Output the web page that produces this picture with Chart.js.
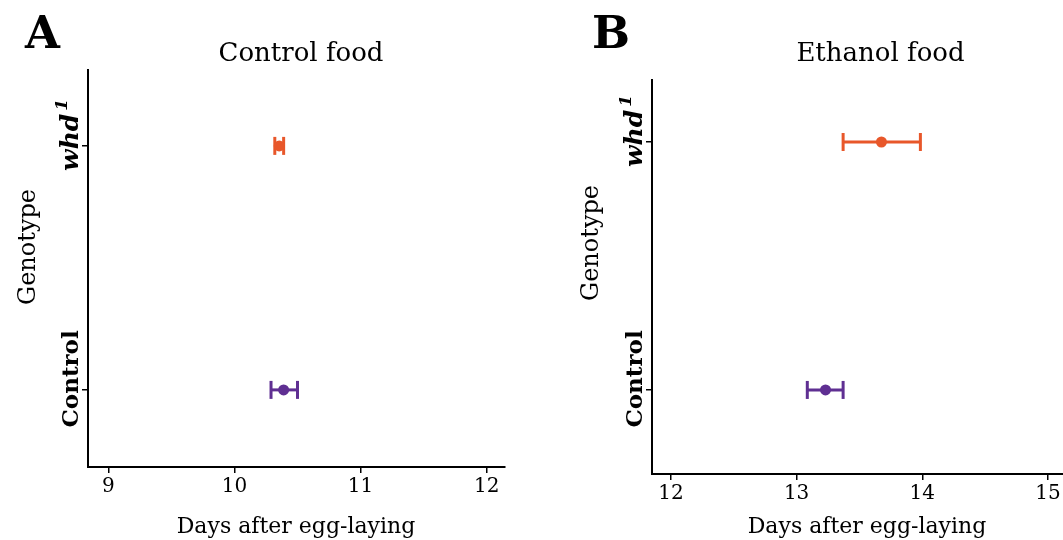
<!DOCTYPE html>
<html><head><meta charset="utf-8">
<script src="https://cdn.jsdelivr.net/npm/chart.js@4/dist/chart.umd.min.js"></script>
<style>
html,body{margin:0;padding:0;background:#fff;}
#wrap{position:relative;width:1063px;height:540px;overflow:hidden;}
.c{position:absolute;top:0;height:540px;}
</style></head><body>
<div id="wrap">
<div class="c" style="left:0;width:531px"><canvas id="a"></canvas></div>
<div class="c" style="left:531px;width:532px"><canvas id="b"></canvas></div>
</div>
<script>
// ---- data ----
const genotypes = ['Control', 'whd1'];
const genotypeY = [1, 2];
const controlMean = [10.39, 10.355];
const controlLow  = [10.29, 10.32];
const controlHigh = [10.50, 10.39];
const ethanolMean = [13.23, 13.675];
const ethanolLow  = [13.085, 13.37];
const ethanolHigh = [13.37, 13.985];
const controlTicks = [9, 10, 11, 12];
const ethanolTicks = [12, 13, 14, 15];
const colors = ['#5F2F92', '#E8572A'];

const FONT = "'DejaVu Serif', 'Liberation Serif', serif";
Chart.defaults.color = '#000';
Chart.defaults.font.family = FONT;

function makePanel(id, o) {
  const datasets = [];
  for (let i = 0; i < genotypes.length; i++) {
    datasets.push({
      data: [{x: o.low[i], y: genotypeY[i]}, {x: o.high[i], y: genotypeY[i]}],
      showLine: true,
      borderColor: colors[i], borderWidth: 3,
      pointStyle: 'line', pointRotation: 90, pointRadius: 9, pointHoverRadius: 9,
      pointBorderColor: colors[i], pointBorderWidth: 3, pointHoverBorderWidth: 3,
      order: 2
    });
    datasets.push({
      data: [{x: o.mean[i], y: genotypeY[i]}],
      pointRadius: 5.5, pointHoverRadius: 5.5,
      backgroundColor: colors[i], borderWidth: 0,
      order: 1
    });
  }
  const labelPlugin = {
    id: 'labels' + id,
    afterDraw(chart) {
      const ctx = chart.ctx;
      const ys = chart.scales.y;
      const left = chart.chartArea.left;
      ctx.save();
      ctx.fillStyle = '#000';
      // panel letter
      ctx.font = "bold 45px " + FONT;
      ctx.textAlign = 'left';
      ctx.textBaseline = 'alphabetic';
      ctx.fillText(o.letter, o.letterX, 48);
      // panel title
      ctx.font = "26px " + FONT;
      ctx.textAlign = 'center';
      ctx.fillText(o.title, o.titleX, 61);
      // x axis title
      ctx.font = "22px " + FONT;
      ctx.fillText('Days after egg-laying', o.xTitleX, 533);
      // y axis title
      ctx.save();
      ctx.translate(o.yTitleX, o.yTitleY);
      ctx.rotate(-Math.PI / 2);
      ctx.font = "24px " + FONT;
      ctx.textAlign = 'center';
      ctx.textBaseline = 'alphabetic';
      ctx.fillText('Genotype', 0, 0);
      ctx.restore();
      // category labels (rotated)
      for (let i = 0; i < genotypes.length; i++) {
        const py = ys.getPixelForValue(genotypeY[i]) - 11;
        ctx.save();
        ctx.translate(left - 10, py);
        ctx.rotate(-Math.PI / 2);
        ctx.textBaseline = 'alphabetic';
        if (genotypes[i] === 'whd1') {
          const f1 = "italic bold 25px " + FONT;
          const f2 = "italic bold 17px " + FONT;
          ctx.font = f1; const w1 = ctx.measureText('whd').width;
          ctx.font = f2; const w2 = ctx.measureText('1').width;
          const start = -(w1 + w2 + 3) / 2;
          ctx.textAlign = 'left';
          ctx.font = f1; ctx.fillText('whd', start, 0);
          ctx.font = f2; ctx.fillText('1', start + w1 + 3, -11);
        } else {
          ctx.font = "bold 23px " + FONT;
          ctx.textAlign = 'center';
          ctx.fillText(genotypes[i], 0, 0);
        }
        ctx.restore();
      }
      ctx.restore();
    }
  };
  return new Chart(document.getElementById(id), {
    type: 'scatter',
    data: { datasets },
    plugins: [labelPlugin],
    options: {
      responsive: true, maintainAspectRatio: false, animation: false, devicePixelRatio: 1,
      layout: { padding: o.padding, autoPadding: false },
      plugins: { legend: { display: false }, tooltip: { enabled: false } },
      scales: {
        x: {
          type: 'linear', min: o.xmin, max: o.xmax,
          afterBuildTicks: s => { s.ticks = o.ticks.map(v => ({value: v})); },
          afterFit: s => { s.height = o.xH; s.paddingLeft = 0; s.paddingRight = 0; },
          grid: { drawOnChartArea: false, drawTicks: true, tickLength: 6, color: '#000', lineWidth: 1.5 },
          border: { color: '#000', width: 2 },
          ticks: { font: { size: 20, family: FONT }, color: '#000', padding: 2, maxRotation: 0 },
          title: { display: false }
        },
        y: {
          type: 'linear', min: o.ymin, max: o.ymax,
          afterBuildTicks: s => { s.ticks = genotypeY.map(v => ({value: v})); },
          afterFit: s => { s.width = o.yW; s.paddingTop = 0; s.paddingBottom = 0; },
          grid: { drawOnChartArea: false, drawTicks: true, tickLength: 6, color: '#000', lineWidth: 1.5 },
          border: { color: '#000', width: 2 },
          ticks: { display: false },
          title: { display: false }
        }
      }
    }
  });
}

makePanel('a', {
  mean: controlMean, low: controlLow, high: controlHigh, ticks: controlTicks,
  xmin: 8.839, xmax: 12.145, ymin: 0.684, ymax: 2.311,
  padding: { top: 70, right: 26, left: 0, bottom: 0 }, xH: 73, yW: 88,
  yTitleX: 35, yTitleY: 247, xTitleX: 296,
  letter: 'A', letterX: 25, title: 'Control food', titleX: 301
});
makePanel('b', {
  mean: ethanolMean, low: ethanolLow, high: ethanolHigh, ticks: ethanolTicks,
  xmin: 11.849, xmax: 15.12, ymin: 0.661, ymax: 2.25,
  padding: { top: 80, right: 0, left: 0, bottom: 0 }, xH: 66, yW: 121,
  yTitleX: 67, yTitleY: 243, xTitleX: 336,
  letter: 'B', letterX: 61, title: 'Ethanol food', titleX: 349.5
});
</script>
</body></html>
